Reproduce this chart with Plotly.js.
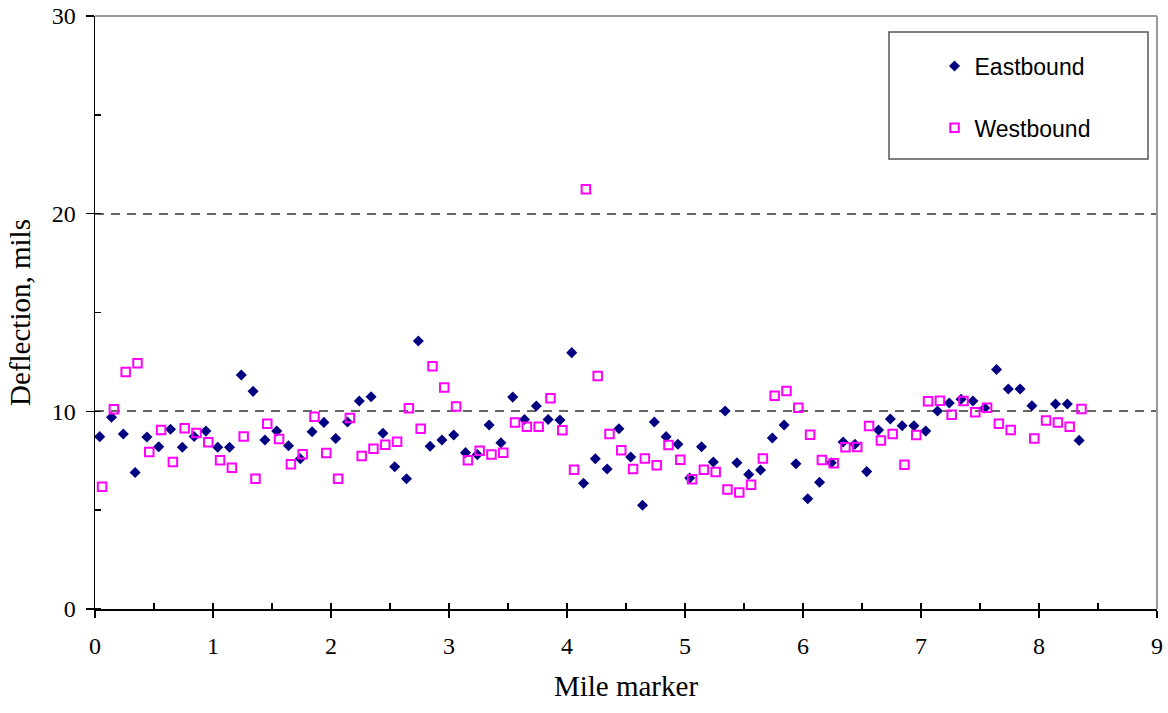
<!DOCTYPE html>
<html>
<head>
<meta charset="utf-8">
<script src="https://cdn.plot.ly/plotly-3.0.1.min.js"></script>
<style>
  html, body { margin: 0; padding: 0; background: #fff; }
  #chart { width: 1168px; height: 713px; }
</style>
</head>
<body>
<div id="chart"></div>
<script>
// Mile markers of each reading
const eastMile = [
  0.04,0.14,0.24,0.34,0.44,0.54,0.64,0.74,0.84,0.94,
  1.04,1.14,1.24,1.34,1.44,1.54,1.64,1.74,1.84,1.94,
  2.04,2.14,2.24,2.34,2.44,2.54,2.64,2.74,2.84,2.94,
  3.04,3.14,3.24,3.34,3.44,3.54,3.64,3.74,3.84,3.94,
  4.04,4.14,4.24,4.34,4.44,4.54,4.64,4.74,4.84,4.94,
  5.04,5.14,5.24,5.34,5.44,5.54,5.64,5.74,5.84,5.94,
  6.04,6.14,6.24,6.34,6.44,6.54,6.64,6.74,6.84,6.94,
  7.04,7.14,7.24,7.34,7.44,7.54,7.64,7.74,7.84,7.94,
  8.14,8.24,8.34
];
const eastDeflection = [
  8.72,9.70,8.85,6.91,8.70,8.21,9.09,8.18,8.73,9.00,
  8.18,8.18,11.84,11.01,8.55,9.00,8.26,7.60,8.97,9.44,
  8.63,9.46,10.52,10.74,8.89,7.20,6.59,13.56,8.23,8.55,
  8.80,7.91,7.81,9.31,8.41,10.72,9.59,10.27,9.59,9.56,
  12.97,6.36,7.60,7.08,9.12,7.69,5.25,9.46,8.72,8.33,
  6.63,8.21,7.44,10.02,7.40,6.81,7.03,8.65,9.31,7.35,
  5.58,6.41,7.40,8.45,8.33,6.95,9.05,9.61,9.27,9.27,
  9.00,10.02,10.42,10.61,10.52,10.17,12.12,11.13,11.13,10.28,
  10.37,10.37,8.53
];
const westMile = [
  0.06,0.16,0.26,0.36,0.46,0.56,0.66,0.76,0.86,0.96,
  1.06,1.16,1.26,1.36,1.46,1.56,1.66,1.76,1.86,1.96,
  2.06,2.16,2.26,2.36,2.46,2.56,2.66,2.76,2.86,2.96,
  3.06,3.16,3.26,3.36,3.46,3.56,3.66,3.76,3.86,3.96,
  4.06,4.16,4.26,4.36,4.46,4.56,4.66,4.76,4.86,4.96,
  5.06,5.16,5.26,5.36,5.46,5.56,5.66,5.76,5.86,5.96,
  6.06,6.16,6.26,6.36,6.46,6.56,6.66,6.76,6.86,6.96,
  7.06,7.16,7.26,7.36,7.46,7.56,7.66,7.76,7.96,
  8.06,8.16,8.26,8.36
];
const westDeflection = [
  6.19,10.10,11.99,12.43,7.94,9.05,7.44,9.14,8.90,8.43,
  7.52,7.15,8.73,6.59,9.37,8.60,7.32,7.83,9.73,7.89,
  6.59,9.66,7.74,8.11,8.31,8.46,10.15,9.12,12.28,11.20,
  10.25,7.52,8.01,7.81,7.91,9.44,9.22,9.22,10.66,9.04,
  7.05,21.23,11.79,8.85,8.03,7.08,7.62,7.27,8.30,7.55,
  6.56,7.05,6.93,6.05,5.90,6.29,7.62,10.79,11.03,10.18,
  8.82,7.54,7.37,8.18,8.19,9.26,8.53,8.85,7.30,8.80,
  10.51,10.54,9.83,10.52,9.95,10.18,9.37,9.05,8.63,
  9.54,9.44,9.22,10.12
];
const seriesNames = ["Eastbound", "Westbound"];
const xTitle = "Mile marker";
const yTitle = "Deflection, mils";

const serif = "'Liberation Serif', 'Times New Roman', Times, serif";
const sans = "'Liberation Sans', Arial, Helvetica, sans-serif";

const traces = [
  {
    x: eastMile, y: eastDeflection, name: seriesNames[0],
    type: "scatter", mode: "markers", legendgroup: "e",
    marker: { symbol: "diamond", size: 8.5, color: "#000080", line: { width: 0 } }
  },
  {
    x: westMile, y: westDeflection, name: seriesNames[1],
    type: "scatter", mode: "markers", legendgroup: "w",
    marker: { symbol: "square-open", size: 8.5, color: "#FF00FF", line: { width: 2, color: "#FF00FF" } }
  },
  { x: [], y: [], xaxis: "x2", yaxis: "y", showlegend: false, hoverinfo: "skip" }
];

const layout = {
  width: 1168, height: 713,
  paper_bgcolor: "#ffffff", plot_bgcolor: "#ffffff",
  margin: { l: 95, r: 11, t: 16, b: 104 },
  showlegend: true,
  xaxis: {
    range: [0, 9], dtick: 1, tick0: 0,
    ticks: "outside", ticklen: 7, tickwidth: 1.5, tickcolor: "#000",
    showline: true, linecolor: "#000", linewidth: 1.5,
    showgrid: false, zeroline: false,
    tickfont: { family: serif, size: 24, color: "#000" },
    ticklabelstandoff: 8,
    title: { text: xTitle, font: { family: serif, size: 29, color: "#000" }, standoff: 17 },
    automargin: false
  },
  xaxis2: {
    overlaying: "x", anchor: "y", side: "bottom",
    range: [0, 9], dtick: 0.5, tick0: 0,
    ticks: "inside", ticklen: 6, tickwidth: 1.5, tickcolor: "#000",
    showticklabels: false, showline: false, showgrid: false, zeroline: false
  },
  yaxis: {
    range: [0, 30], dtick: 10, tick0: 0,
    ticks: "outside", ticklen: 8, tickwidth: 1.5, tickcolor: "#000",
    minor: { dtick: 5, ticks: "inside", ticklen: 6, tickwidth: 1.5, tickcolor: "#000", showgrid: false },
    showline: true, linecolor: "#000", linewidth: 1.5,
    showgrid: true, gridcolor: "#666666", gridwidth: 2, griddash: "9px,7px",
    zeroline: false,
    tickfont: { family: serif, size: 24, color: "#000" },
    ticklabelstandoff: 5,
    title: { text: yTitle, font: { family: serif, size: 29, color: "#000" }, standoff: 12 },
    automargin: false
  },
  legend: {
    x: 0.7905, y: 0.952, xanchor: "left", yanchor: "top",
    bgcolor: "rgba(0,0,0,0)", borderwidth: 0,
    font: { family: sans, size: 23, color: "#000" },
    tracegroupgap: 29
  },
  shapes: [
    { type: "line", xref: "paper", yref: "paper", x0: 0, x1: 1, y0: 1, y1: 1,
      line: { color: "#999999", width: 2 } },
    { type: "line", xref: "paper", yref: "paper", x0: 1, x1: 1, y0: 0, y1: 1,
      line: { color: "#999999", width: 2 } },
    { type: "rect", xref: "paper", yref: "paper",
      x0: (889 - 95) / 1062, x1: (1148 - 95) / 1062,
      y0: (609 - 159) / 593, y1: (609 - 32) / 593,
      line: { color: "#555555", width: 1.5 }, fillcolor: "rgba(255,255,255,1)", layer: "below" }
  ]
};

Plotly.newPlot("chart", traces, layout, { displayModeBar: false, staticPlot: true });
</script>
</body>
</html>
